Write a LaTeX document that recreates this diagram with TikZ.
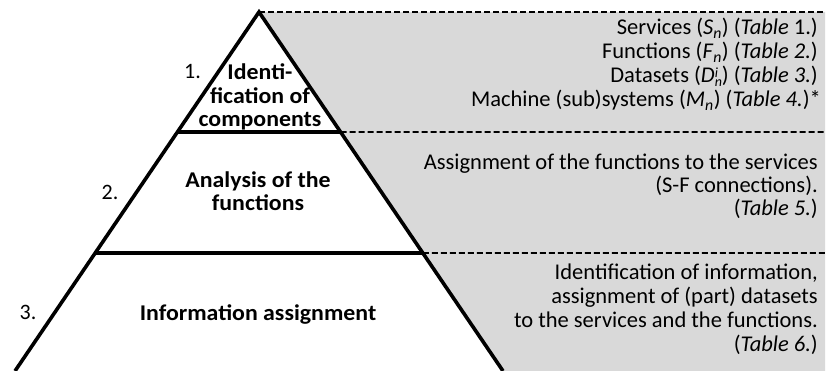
\documentclass[tikz,border=0pt]{standalone}
\usepackage{fontspec}
\setmainfont{Carlito}
\newfontfamily\pyrfont{Carlito}[FakeStretch=1.06]
\usetikzlibrary{calc}
\newcommand{\subsup}[2]{\rlap{\raisebox{5.5pt}{\fontsize{14}{14}\selectfont\textit{#2}}}\raisebox{-4pt}{\fontsize{14}{14}\selectfont\textit{#1}}}
\begin{document}
\begin{tikzpicture}[x=1pt,y=-1pt,
  pyr/.style={line width=3.6pt, line cap=butt, line join=miter},
  sep/.style={line width=3.6pt},
  dashline/.style={line width=1.6pt, dash pattern=on 6pt off 3pt},
  shade/.style={fill=gray!30, draw=none},
  lbl/.style={inner sep=0pt, anchor=base, font=\fontsize{22}{24}\selectfont},
  blbl/.style={inner sep=0pt, anchor=base, align=center, font=\fontsize{22.5}{23.5}\selectfont\pyrfont\bfseries},
  rtxt/.style={inner sep=0pt, anchor=base east, align=right, font=\fontsize{22.5}{23}\selectfont},
  rtxtb/.style={rtxt, font=\fontsize{22.5}{24}\selectfont}
]
\useasboundingbox (0,0) rectangle (828,371);
% geometry
\coordinate (apex) at (259,12);
\coordinate (bl) at (15,371);
\coordinate (br) at (503,371);
\coordinate (l1) at ($(apex)!0.3343!(bl)$);
\coordinate (r1) at ($(apex)!0.3343!(br)$);
\coordinate (l2) at ($(apex)!0.6713!(bl)$);
\coordinate (r2) at ($(apex)!0.6713!(br)$);
\coordinate (e0) at (825,12);
\coordinate (e1) at (825,132);
\coordinate (e2) at (825,253);
\coordinate (e3) at (825,371);
% grey area
\fill[shade] (apex) -- (e0) -- (e3) -- (br) -- cycle;
% dashed lines
\draw[dashline] (apex) -- (e0);
\draw[dashline] (r1) -- (e1);
\draw[dashline] (r2) -- (e2);
% pyramid
\draw[pyr] (bl) -- (apex) -- (br);
\draw[sep] (l1) -- (r1);
\draw[sep] (l2) -- (r2);
% left numbers
\node[lbl] (n1) at (192.5,79) {1.};
\node[lbl] (n2) at (110,200) {2.};
\node[lbl] (n3) at (28,320) {3.};
% pyramid labels (base = last line)
\node[blbl] (t1) at (260,127) {Identi-\\fication of\\components};
\node[blbl] (t2) at (258,211) {Analysis of the\\functions};
\node[blbl] (t3) at (258,321) {Information assignment};
% right texts
\node[rtxt] (s1) at (818,35) {Services (\textit{S}\textsubscript{\textit{n}}) (\textit{Table} 1.)};
\node[rtxt] (s2) at (818,59) {Functions (\textit{F}\textsubscript{\textit{n}}) (\textit{Table 2.})};
\node[rtxt] (s3) at (818,83) {Datasets (\textit{D}\subsup{n}{i}) (\textit{Table 3.})};
\node[rtxt] (s4) at (821,107) {Machine (sub)systems (\textit{M}\textsubscript{\textit{n}}) (\textit{Table 4.})*};
\node[rtxt] (b2) at (818,216) {Assignment of the functions to the services\\(S-F connections).\\(\textit{Table 5.})};
\node[rtxtb] (b3) at (818,352) {Identification of information,\\assignment of (part) datasets\\to the services and the functions.\\(\textit{Table 6.})};
\end{tikzpicture}
\end{document}
